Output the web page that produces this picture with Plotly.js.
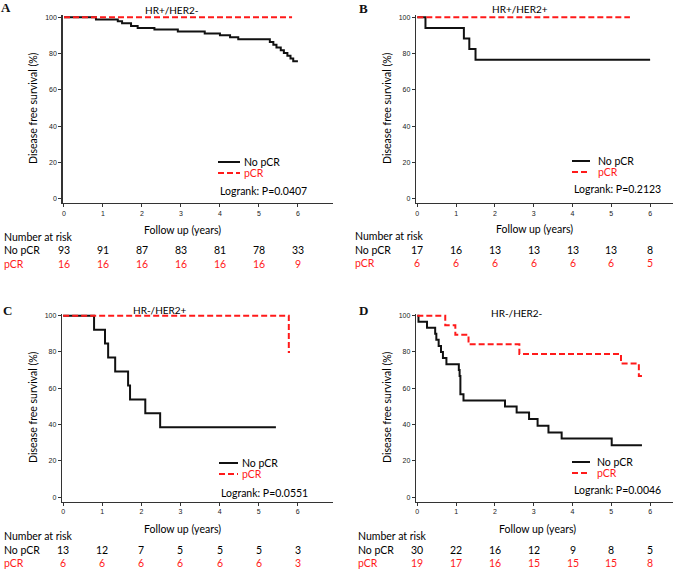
<!DOCTYPE html>
<html>
<head>
<meta charset="utf-8">
<script src="https://cdn.plot.ly/plotly-3.0.1.min.js"></script>
<style>html,body{margin:0;padding:0;background:#fff;}#chart{width:685px;height:570px;}</style>
</head>
<body>
<div id="chart"></div>
<script>
// ---------------- DATA ----------------
const yearTicks = [0, 1, 2, 3, 4, 5, 6];
const survTicks = [0, 20, 40, 60, 80, 100];
const panelTitles = ["HR+/HER2-", "HR+/HER2+", "HR-/HER2+", "HR-/HER2-"];
const panelLetters = ["A", "B", "C", "D"];
const logrankP = ["0.0407", "0.2123", "0.0551", "0.0046"];
const groupNames = ["No pCR", "pCR"];

// Panel A  (HR+/HER2-)
const A_noPCR_t = [0, 0.82, 1.38, 1.49, 1.72, 1.89, 2.32, 2.92, 3.61, 4.00, 4.26, 4.47, 5.28, 5.37, 5.45, 5.56, 5.64, 5.73, 5.81, 5.88, 6.00];
const A_noPCR_s = [100, 98.7, 97.8, 96.7, 95.2, 94.1, 93.2, 92.1, 91.0, 90.1, 89.0, 87.9, 86.3, 84.8, 83.3, 81.8, 80.3, 78.8, 77.2, 75.7, 75.7];
const A_pCR_t = [0, 5.85];
const A_pCR_s = [100, 100];
const A_risk_noPCR = [93, 91, 87, 83, 81, 78, 33];
const A_risk_pCR = [16, 16, 16, 16, 16, 16, 9];

// Panel B  (HR+/HER2+)
const B_noPCR_t = [0, 0.21, 1.20, 1.34, 1.50, 6.00];
const B_noPCR_s = [100, 94.1, 88.2, 82.4, 76.5, 76.5];
const B_pCR_t = [0, 5.48];
const B_pCR_s = [100, 100];
const B_risk_noPCR = [17, 16, 13, 13, 13, 13, 8];
const B_risk_pCR = [6, 6, 6, 6, 6, 6, 5];

// Panel C  (HR-/HER2+)
const C_noPCR_t = [0, 0.79, 1.07, 1.15, 1.33, 1.66, 1.71, 2.10, 2.48, 5.44];
const C_noPCR_s = [100, 92.3, 84.6, 76.9, 69.2, 61.5, 53.8, 46.2, 38.5, 38.5];
const C_pCR_t = [0, 5.77, 5.80];
const C_pCR_s = [100, 80, 80];
const C_risk_noPCR = [13, 12, 7, 5, 5, 5, 3];
const C_risk_pCR = [6, 6, 6, 6, 6, 6, 3];

// Panel D  (HR-/HER2-)
const D_noPCR_t = [0, 0.03, 0.25, 0.46, 0.49, 0.55, 0.61, 0.66, 0.75, 1.07, 1.09, 1.11, 1.19, 2.26, 2.56, 2.88, 3.10, 3.38, 3.72, 5.01, 5.79];
const D_noPCR_s = [100, 96.7, 93.3, 90.0, 86.7, 83.3, 80.0, 76.7, 73.3, 70.0, 66.7, 56.7, 53.3, 50.0, 46.6, 43.0, 39.3, 35.6, 32.3, 28.6, 28.6];
const D_pCR_t = [0, 0.72, 0.98, 1.32, 2.63, 5.25, 5.71, 5.79];
const D_pCR_s = [100, 94.7, 89.5, 84.2, 78.9, 73.7, 66.8, 66.8];
const D_risk_noPCR = [30, 22, 16, 12, 9, 8, 5];
const D_risk_pCR = [19, 17, 16, 15, 15, 15, 8];

// ---------------- STYLE / LAYOUT ----------------
const W = 685, H = 570;
const FONT = 'Lato, "Liberation Sans", Arial, sans-serif';
const TICKFONT = '"Liberation Sans", Arial, sans-serif';
const BLACK = '#000000';
const RED = '#ff1a1a';
const px = v => v / W;
const py = v => 1 - v / H;

const panels = [
  { noT: A_noPCR_t, noS: A_noPCR_s, pT: A_pCR_t, pS: A_pCR_s, rNo: A_risk_noPCR, rP: A_risk_pCR,
    xd: [62.5, 333], xr: [-0.038, 6.9], yd: [15, 203],
    letter: [6, 7.5], title: [172, 10.5], ytitle: [33, 108], ftitle: [182, 230],
    tblX: 2, tblY: [236.5, 250.5, 264], leg: [218, 240, 242, 162, 173, 191] },
  { noT: B_noPCR_t, noS: B_noPCR_s, pT: B_pCR_t, pS: B_pCR_s, rNo: B_risk_noPCR, rP: B_risk_pCR,
    xd: [416, 673], xr: [-0.034, 6.59], yd: [15, 203],
    letter: [363, 8], title: [520, 9], ytitle: [387, 108], ftitle: [534, 229],
    tblX: 353, tblY: [236, 250.3, 263.3], leg: [572, 590, 596, 161, 172, 189] },
  { noT: C_noPCR_t, noS: C_noPCR_s, pT: C_pCR_t, pS: C_pCR_s, rNo: C_risk_noPCR, rP: C_risk_pCR,
    xd: [62, 333], xr: [-0.03, 6.9], yd: [313.5, 501.5],
    letter: [8, 310], title: [160, 309.5], ytitle: [33, 407], ftitle: [182, 529],
    tblX: 2, tblY: [535.7, 550, 563.3], leg: [219, 238, 240, 463, 474, 493] },
  { noT: D_noPCR_t, noS: D_noPCR_s, pT: D_pCR_t, pS: D_pCR_s, rNo: D_risk_noPCR, rP: D_risk_pCR,
    xd: [416, 673], xr: [-0.034, 6.59], yd: [313.5, 501.5],
    letter: [363, 310.5], title: [517, 313], ytitle: [387, 407], ftitle: [537, 529],
    tblX: 356, tblY: [536, 550, 563.3], leg: [572, 590, 595, 462, 473, 490] }
];

const data = [];
const layout = {
  width: W, height: H,
  margin: { l: 0, r: 0, t: 0, b: 0 },
  paper_bgcolor: '#fff', plot_bgcolor: '#fff',
  showlegend: false,
  font: { family: FONT, color: BLACK },
  annotations: [], shapes: []
};

function ann(text, x, y, opts) {
  layout.annotations.push(Object.assign({
    text: text, x: x, y: y, xref: 'paper', yref: 'paper',
    showarrow: false, xanchor: 'center', yanchor: 'middle',
    font: { family: FONT, size: 10.5, color: BLACK }
  }, opts || {}));
}

panels.forEach((p, i) => {
  const n = i === 0 ? '' : String(i + 1);
  const xa = 'x' + n, ya = 'y' + n;
  data.push({ x: p.noT, y: p.noS, xaxis: xa, yaxis: ya, type: 'scatter', mode: 'lines',
    line: { shape: 'hv', color: '#111', width: 2 }, name: groupNames[0], hoverinfo: 'skip' });
  data.push({ x: p.pT, y: p.pS, xaxis: xa, yaxis: ya, type: 'scatter', mode: 'lines',
    line: { shape: 'hv', color: RED, width: 2, dash: '6px,3px' }, name: groupNames[1], hoverinfo: 'skip' });

  const axCommon = {
    showgrid: false, zeroline: false, showline: true, linecolor: '#333', linewidth: 1.2,
    ticks: 'outside', ticklen: 3, tickwidth: 1, tickcolor: '#333',
    tickfont: { family: TICKFONT, size: 7, color: '#222' }, fixedrange: true
  };
  layout['xaxis' + n] = Object.assign({}, axCommon, {
    domain: [px(p.xd[0]), px(p.xd[1])], range: p.xr, anchor: ya,
    tickmode: 'array', tickvals: yearTicks, ticktext: yearTicks.map(String)
  });
  layout['yaxis' + n] = Object.assign({}, axCommon, {
    domain: [py(p.yd[1]), py(p.yd[0])], range: [-2.4, 101.2], anchor: xa,
    tickmode: 'array', tickvals: survTicks, ticktext: survTicks.map(String)
  });

  // panel letter & title
  ann('<b>' + panelLetters[i] + '</b>', px(p.letter[0]), py(p.letter[1]),
    { font: { family: '"Liberation Serif", "DejaVu Serif", serif', size: 13, color: '#111' } });
  ann(panelTitles[i], px(p.title[0]), py(p.title[1]), { font: { family: FONT, size: 10, color: BLACK } });
  // axis titles
  ann('Disease free survival (%)', px(p.ytitle[0]), py(p.ytitle[1]),
    { textangle: -90, font: { family: FONT, size: 10.5, color: BLACK } });
  ann('Follow up (years)', px(p.ftitle[0]), py(p.ftitle[1]), { font: { family: FONT, size: 10.5, color: BLACK } });

  // legend
  const L = p.leg;
  layout.shapes.push({ type: 'line', xref: 'paper', yref: 'paper', x0: px(L[0]), x1: px(L[1]), y0: py(L[3]), y1: py(L[3]),
    line: { color: '#111', width: 2 } });
  layout.shapes.push({ type: 'line', xref: 'paper', yref: 'paper', x0: px(L[0]), x1: px(L[1]), y0: py(L[4]), y1: py(L[4]),
    line: { color: RED, width: 2, dash: '6px,3px' } });
  ann(groupNames[0], px(L[2]), py(L[3]), { xanchor: 'left' });
  ann(groupNames[1], px(L[2]), py(L[4]), { xanchor: 'left', font: { family: FONT, size: 10.5, color: RED } });
  ann('Logrank: P=' + logrankP[i], px(L[0]), py(L[5]), { xanchor: 'left' });

  // number at risk table
  ann('Number at risk', px(p.tblX), py(p.tblY[0]), { xanchor: 'left' });
  ann(groupNames[0], px(p.tblX), py(p.tblY[1]), { xanchor: 'left' });
  ann(groupNames[1], px(p.tblX), py(p.tblY[2]), { xanchor: 'left', font: { family: FONT, size: 10.5, color: RED } });
  yearTicks.forEach((t, k) => {
    ann(String(p.rNo[k]), t, py(p.tblY[1]), { xref: xa });
    ann(String(p.rP[k]), t, py(p.tblY[2]), { xref: xa, font: { family: FONT, size: 10.5, color: RED } });
  });
});

Plotly.newPlot('chart', data, layout, { staticPlot: true, displayModeBar: false });
</script>
</body>
</html>
